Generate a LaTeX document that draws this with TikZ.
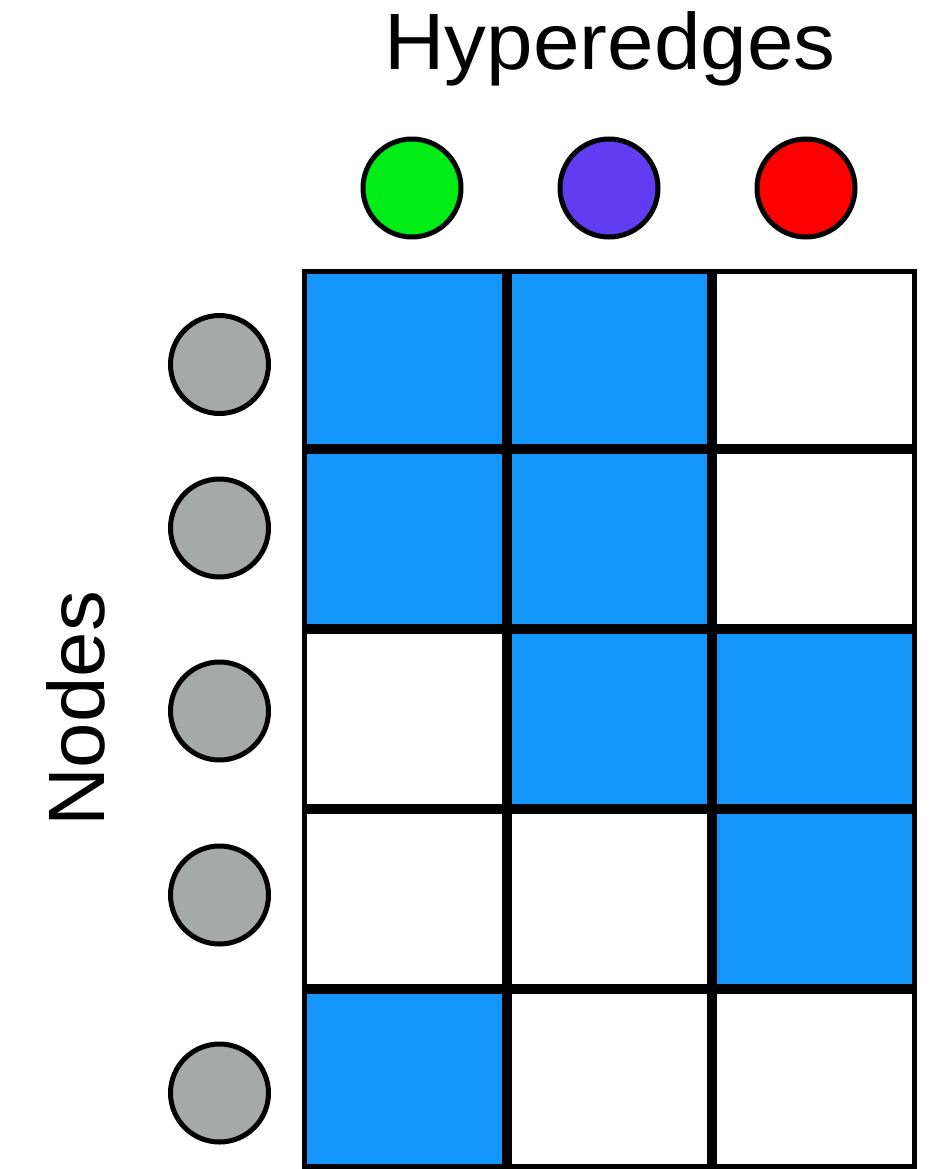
\documentclass[tikz,border=0pt]{standalone}
\usepackage{fontspec}
\setmainfont{Liberation Sans}
\usetikzlibrary{positioning}
\definecolor{cellblue}{RGB}{20,150,251}
\definecolor{hgreen}{RGB}{0,238,22}
\definecolor{hpurple}{RGB}{96,61,240}
\definecolor{hred}{RGB}{255,0,0}
\definecolor{vgray}{RGB}{165,169,167}
\tikzset{
    incidence diagram/.style = {x=1pt, y=-1pt},
    cell/.style        = {draw, line width=5pt, fill=white,
                          inner sep=0pt, outer sep=0pt,
                          minimum width=200pt, minimum height=175pt},
    dot/.style         = {draw, circle, line width=5pt,
                          inner sep=0pt, minimum size=98pt},
    hedge/.style       = {dot},
    vertex/.style      = {dot, fill=vgray},
    axis label/.style  = {font=\fontsize{80}{96}\selectfont, inner sep=0pt}
}
\begin{document}
\begin{tikzpicture}[incidence diagram]

\useasboundingbox (0,0) rectangle (932,1169);

\node[axis label, anchor=base] (hlabel) at (610,70)
    {\scalebox{1.045}[1]{Hyperedges}};
\node[axis label, anchor=base, rotate=90] (vlabel) at (104,709)
    {\scalebox{1.02}[1]{Nodes}};

\foreach \x/\col [count=\j] in {412/hgreen, 609/hpurple, 806/hred}
    \node[hedge, fill=\col] (e\j) at (\x,188) {};

\foreach \y [count=\i] in {364.5, 528, 711, 895, 1093}
    \node[vertex] (v\i) at (219.5,\y) {};

% incidence matrix, one row per node
\foreach \r/\ca/\cb/\cc in {1/cellblue/cellblue/white,
                            2/cellblue/cellblue/white,
                            3/white/cellblue/cellblue,
                            4/white/white/cellblue,
                            5/cellblue/white/white} {
    \node[cell, fill=\ca] (c\r-1) at (404.5,179+180*\r) {};
    \node[cell, fill=\cb, right=5pt of c\r-1] (c\r-2) {};
    \node[cell, fill=\cc, right=5pt of c\r-2] (c\r-3) {};
}

\end{tikzpicture}
\end{document}
